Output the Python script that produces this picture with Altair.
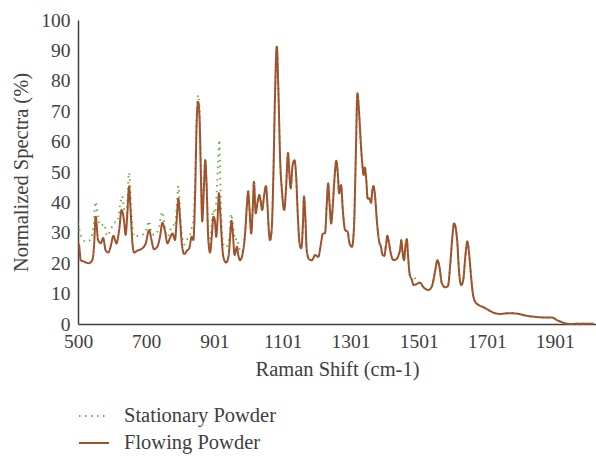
import altair as alt
import pandas as pd

# Flowing Powder spectrum (Raman shift, normalized %)
flow_x = [500, 503, 508, 518, 532, 542, 547, 552, 559, 567, 574, 581, 589, 596, 604, 613, 621, 628, 635, 640,
          645, 650, 655, 660, 665, 674, 689, 699, 709, 716, 723, 733, 741, 748, 755, 763, 770, 778, 785, 790,
          795, 800, 805, 812, 820, 827, 834, 839, 844, 849, 853, 857, 861, 865, 870, 874, 878, 883, 888, 893,
          898, 902, 906, 910, 914, 917, 922, 927, 935, 942, 947, 951, 955, 960, 967, 971, 976, 984, 991, 996,
          1000, 1004, 1009, 1014, 1017, 1022, 1027, 1033, 1037, 1041, 1047, 1052, 1057, 1060, 1064, 1069, 1074,
          1079, 1084, 1089, 1094, 1099, 1106, 1112, 1117, 1121, 1125, 1130, 1136, 1141, 1146, 1151, 1156, 1161,
          1164, 1168, 1172, 1179, 1187, 1197, 1206, 1214, 1219, 1226, 1231, 1235, 1239, 1244, 1249, 1254, 1259,
          1264, 1267, 1273, 1278, 1285, 1292, 1298, 1305, 1311, 1316, 1321, 1326, 1331, 1336, 1339, 1343, 1347,
          1351, 1356, 1361, 1365, 1368, 1373, 1378, 1385, 1390, 1395, 1400, 1405, 1409, 1414, 1419, 1427, 1435,
          1442, 1447, 1450, 1453, 1458, 1462, 1466, 1470, 1474, 1481, 1486, 1496, 1505, 1515, 1530, 1540, 1550,
          1556, 1562, 1569, 1579, 1587, 1594, 1600, 1605, 1609, 1614, 1620, 1626, 1632, 1638, 1644, 1649, 1655,
          1660, 1667, 1677, 1692, 1706, 1721, 1741, 1760, 1780, 1800, 1819, 1839, 1858, 1878, 1893, 1907, 1927,
          1946, 1976, 2015]
flow_y = [26.5, 26.0, 21.0, 20.5, 20.0, 21.0, 25.4, 35.3, 27.6, 26.6, 28.3, 24.3, 23.5, 25.5, 29.0, 26.5, 31.0,
          37.5, 34.2, 29.3, 36.4, 45.2, 36.4, 26.5, 23.5, 24.1, 24.9, 26.5, 30.9, 27.6, 24.6, 25.4, 28.7, 33.3,
          30.9, 26.5, 28.2, 29.8, 27.6, 34.2, 41.3, 34.2, 26.5, 23.0, 24.1, 24.9, 28.7, 27.6, 41.9, 67.1, 73.1,
          68.2, 49.6, 33.7, 45.2, 53.9, 45.2, 27.6, 23.5, 28.7, 35.3, 34.2, 28.7, 34.2, 43.0, 38.6, 28.7, 22.1,
          20.2, 22.1, 28.7, 34.0, 29.8, 22.7, 25.4, 22.7, 21.0, 23.3, 29.8, 38.6, 43.5, 37.5, 29.8, 39.7, 46.8,
          36.4, 39.7, 42.4, 40.2, 37.5, 42.4, 45.4, 38.6, 32.0, 27.6, 30.9, 48.5, 75.9, 91.2, 75.9, 53.9, 44.1,
          37.5, 46.3, 56.3, 49.6, 44.6, 51.8, 53.9, 48.5, 35.3, 26.5, 24.9, 33.1, 41.9, 35.3, 24.3, 21.3, 21.0,
          22.7, 22.1, 26.5, 29.6, 30.0, 39.7, 46.3, 39.7, 33.1, 39.7, 48.5, 53.7, 48.5, 43.0, 45.7, 37.5, 30.9,
          30.4, 26.5, 25.4, 32.0, 53.9, 75.9, 69.3, 59.4, 51.8, 49.0, 51.5, 47.4, 41.3, 41.3, 39.9, 44.1, 45.4,
          41.9, 34.2, 27.1, 25.4, 22.7, 22.4, 26.0, 29.0, 26.5, 23.3, 21.0, 21.3, 22.7, 24.9, 27.6, 24.3, 21.0,
          25.4, 27.9, 22.1, 16.7, 14.5, 12.8, 13.2, 13.6, 12.1, 11.2, 12.5, 17.8, 21.0, 18.8, 13.4, 12.1, 12.5,
          20.0, 28.7, 33.1, 32.0, 27.6, 16.7, 12.8, 14.5, 22.1, 27.1, 23.3, 15.6, 10.1, 7.3, 6.25, 5.5, 4.6, 3.7,
          3.3, 3.5, 3.5, 3.2, 2.7, 2.4, 2.2, 2.1, 2.1, 1.3, 0.4, 0.0, 0.1, 0.1]

# Stationary Powder: differs from the flowing spectrum below ~1000 cm-1 and near 1490 cm-1
stat_x = [500, 508, 523, 535, 545, 552, 559, 568, 576, 586, 596, 606, 616, 623, 630, 637, 643, 650, 657, 665,
          679, 694, 702, 709, 716, 726, 738, 748, 755, 763, 773, 780, 785, 790, 795, 800, 805, 812, 821, 829,
          834, 839, 844, 849, 853, 857, 861, 865, 870, 874, 878, 883, 888, 893, 898, 903, 908, 912, 915, 917,
          920, 924, 930, 935, 945, 950, 955, 962, 967, 974, 981, 991, 996, 1000]
stat_y = [33.1, 29.3, 27.1, 27.6, 31.5, 40.2, 34.8, 32.3, 32.9, 29.0, 30.9, 33.3, 33.7, 38.6, 42.1, 36.9, 36.4,
          49.8, 36.4, 28.7, 29.2, 29.6, 31.5, 33.9, 29.8, 29.3, 32.0, 36.9, 32.0, 28.7, 31.5, 32.6, 32.0, 38.6,
          45.4, 36.4, 29.8, 26.2, 27.9, 29.3, 31.5, 34.2, 47.4, 69.3, 75.3, 70.4, 52.0, 35.3, 46.3, 53.9, 45.2,
          28.7, 26.3, 33.1, 37.5, 36.4, 44.1, 53.9, 60.5, 52.9, 38.6, 28.7, 25.4, 25.4, 28.7, 36.2, 33.1, 27.6,
          28.2, 24.9, 23.5, 29.8, 38.6, 44.6]
stat_override_x = [1486, 1496]
stat_override_y = [15.6, 13.9]

x_ticks = [500, 700, 901, 1101, 1301, 1501, 1701, 1901]
y_ticks = [0, 10, 20, 30, 40, 50, 60, 70, 80, 90, 100]
series_names = ["Stationary Powder", "Flowing Powder"]
series_colors = ["#70AD47", "#A0522D"]

# Build tables
override = dict(zip(stat_override_x, stat_override_y))
stat_rows = [{"shift": x, "value": y, "series": series_names[0]} for x, y in zip(stat_x, stat_y)]
stat_rows += [{"shift": x, "value": override.get(x, y), "series": series_names[0]}
              for x, y in zip(flow_x, flow_y) if x > stat_x[-1]]
flow_rows = [{"shift": x, "value": y, "series": series_names[1]} for x, y in zip(flow_x, flow_y)]
df_stat = pd.DataFrame(stat_rows)
df_flow = pd.DataFrame(flow_rows)

FONT = "Liberation Serif"
TXT = "#404040"

x_enc = alt.X("shift:Q",
              scale=alt.Scale(domain=[500, 2022], nice=False, zero=False),
              axis=alt.Axis(values=x_ticks, format="d", title="Raman Shift (cm-1)", grid=False, ticks=False,
                            labelPadding=8, titlePadding=9, labelFlush=False,
                            labelFontSize=19.5))
y_enc = alt.Y("value:Q",
              scale=alt.Scale(domain=[0, 100], nice=False),
              axis=alt.Axis(values=y_ticks, format="d", title="Normalized Spectra (%)", grid=False, ticks=False,
                            labelPadding=8, titlePadding=9, labelFontSize=19.5))
legend_kw = dict(title=None, orient="none", legendX=0, legendY=380,
                 symbolType="stroke", symbolSize=900, symbolStrokeWidth=2,
                 labelFont=FONT, labelFontSize=20.5, labelColor=TXT,
                 labelOffset=14, rowPadding=0)
color_enc = alt.Color("series:N",
                      scale=alt.Scale(domain=series_names, range=series_colors),
                      legend=alt.Legend(**legend_kw))
dash_enc = alt.StrokeDash("series:N",
                          scale=alt.Scale(domain=series_names, range=[[1.5, 4.5], [1, 0]]),
                          legend=alt.Legend(**legend_kw))

stat_line = alt.Chart(df_stat).mark_line(strokeWidth=2, interpolate="monotone").encode(
    x=x_enc, y=y_enc, color=color_enc, strokeDash=dash_enc)
flow_line = alt.Chart(df_flow).mark_line(strokeWidth=2, interpolate="monotone").encode(
    x=x_enc, y=y_enc, color=color_enc, strokeDash=dash_enc)

chart = alt.layer(stat_line, flow_line).properties(
    width=518, height=304,
    autosize=alt.AutoSizeParams(type="none"),
    padding={"left": 78, "top": 20, "right": 0, "bottom": 132},
).configure_view(stroke=None).configure_axis(
    labelFont=FONT, labelColor=TXT,
    titleFont=FONT, titleFontSize=20.5, titleColor=TXT, titleFontWeight="normal",
    domainColor="#404040", domainWidth=1.5,
)

chart.save("out.html", embed_options={"renderer": "svg", "actions": False})
